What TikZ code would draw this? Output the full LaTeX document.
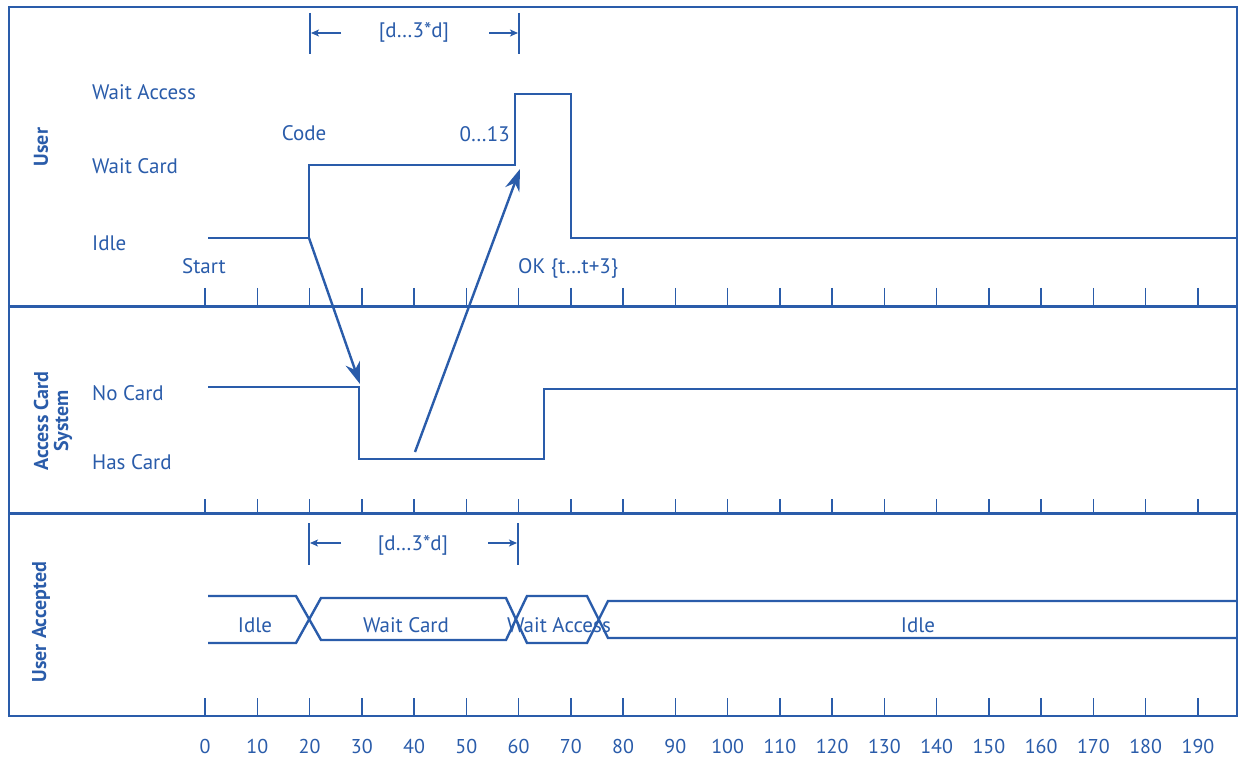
\documentclass[tikz,border=0pt]{standalone}
\usepackage{fontspec}
\setmainfont{PT Sans}
\usetikzlibrary{arrows.meta}
\definecolor{ub}{RGB}{42,92,170}
\begin{document}
\begin{tikzpicture}[x=1pt,y=-1pt,
  every node/.style={text=ub, font=\fontsize{21}{21}\selectfont, inner sep=0pt},
  lbl/.style={anchor=base west},
  axlbl/.style={anchor=base, font=\fontsize{20}{20}\selectfont},
  lane/.style={font=\bfseries\fontsize{20}{20}\selectfont, rotate=90, align=center},
  sig/.style={draw=ub, line width=2.4pt, line join=miter},
  frm/.style={draw=ub, line width=1.8pt},
  sepline/.style={draw=ub, line width=3pt},
  tickmark/.style={draw=ub, line width=1.5pt},
  msg/.style={draw=ub, line width=2.4pt, -{Stealth[length=22pt,width=15pt]}},
  dimline/.style={draw=ub, line width=1.5pt},
  dimarrow/.style={draw=ub, line width=1.5pt, -{Stealth[length=8pt,width=7pt,inset=2pt]}},
]
\useasboundingbox (0,0) rectangle (1239,759);
\fill[white] (0,0) rectangle (1239,759);

% frame and separators
\draw[frm] (9,7) rectangle (1237,716);
\draw[sepline] (9,306) -- (1237,306);
\draw[sepline] (9,513) -- (1237,513);

% ticks and axis labels
\foreach \k in {0,...,19} {
  \pgfmathsetmacro\xx{205+52.26*\k}
  \pgfmathtruncatemacro\vv{10*\k}
  \draw[tickmark] (\xx,288) -- (\xx,306);
  \draw[tickmark] (\xx,499) -- (\xx,513);
  \draw[tickmark] (\xx,698) -- (\xx,716);
  \node[axlbl] (ax\k) at (\xx,753) {\vv};
}

% lane titles
\node[lane] (laneU) at (41,147) {User};
\node[lane] (laneA) at (53,421) {Access Card\\System};
\node[lane] (laneUA) at (41,622) {User Accepted};

% ---- User lifeline ----
\node[lbl] (sWA) at (92,100) {Wait Access};
\node[lbl] (sWC) at (92,174) {Wait Card};
\node[lbl] (sI) at (92,251) {Idle};
\node[lbl] (eStart) at (182,274) {Start};
\node[anchor=base] (eCode) at (304,141) {Code};
\node[anchor=base east] (eDur) at (510,142) {0…13};
\node[lbl] (eOK) at (518,274) {OK \{t…t+3\}};

\coordinate (u0) at (208,238);
\coordinate (u1) at (309,238);
\coordinate (u2) at (309,165);
\coordinate (u3) at (515,165);
\coordinate (u4) at (515,94);
\coordinate (u5) at (571,94);
\coordinate (u6) at (571,238);
\coordinate (u7) at (1237,238);
\draw[sig] (u0) -- (u1) -- (u2) -- (u3) -- (u4) -- (u5) -- (u6) -- (u7);

% top duration constraint
\coordinate (d1a) at (310,13); \coordinate (d1b) at (310,54);
\coordinate (d2a) at (519,13); \coordinate (d2b) at (519,54);
\draw[dimline] (d1a) -- (d1b);
\draw[dimline] (d2a) -- (d2b);
\node[anchor=base] (dimT) at (414,38) {[d…3*d]};
\coordinate (dl1) at (341,33); \coordinate (dl2) at (311,33);
\coordinate (dr1) at (489,33); \coordinate (dr2) at (518,33);
\draw[dimarrow] (dl1) -- (dl2);
\draw[dimarrow] (dr1) -- (dr2);

% ---- Access Card System lifeline ----
\node[lbl] (sNC) at (92,400) {No Card};
\node[lbl] (sHC) at (92,469) {Has Card};
\coordinate (a0) at (208,387);
\coordinate (a1) at (359,387);
\coordinate (a2) at (359,459);
\coordinate (a3) at (544,459);
\coordinate (a4) at (544,389);
\coordinate (a5) at (1237,389);
\draw[sig] (a0) -- (a1) -- (a2) -- (a3) -- (a4) -- (a5);

% messages
\coordinate (m1e) at (360,384);
\coordinate (m2s) at (415,452);
\coordinate (m2e) at (520,169);
\draw[msg] (u1) -- (m1e);
\draw[msg] (m2s) -- (m2e);

% ---- User Accepted (value lifeline) ----
\coordinate (dd1a) at (309,523); \coordinate (dd1b) at (309,565);
\coordinate (dd2a) at (518,523); \coordinate (dd2b) at (518,565);
\draw[dimline] (dd1a) -- (dd1b);
\draw[dimline] (dd2a) -- (dd2b);
\node[anchor=base] (dimB) at (413,550) {[d…3*d]};
\coordinate (bl1) at (341,543); \coordinate (bl2) at (310,543);
\coordinate (br1) at (488,543); \coordinate (br2) at (517,543);
\draw[dimarrow] (bl1) -- (bl2);
\draw[dimarrow] (br1) -- (br2);

\draw[sig] (208,596) -- (296,596) -- (321,640) -- (506,640) -- (527,596)
  -- (587,596) -- (608,638) -- (1237,638);
\draw[sig] (208,643) -- (296,643) -- (321,598) -- (506,598) -- (527,643)
  -- (587,643) -- (608,601) -- (1237,601);

\node[anchor=base] (vI1) at (255,632) {Idle};
\node[anchor=base] (vWC) at (406,632) {Wait Card};
\node[anchor=base] (vWA) at (559,632) {Wait Access};
\node[anchor=base] (vI2) at (918,632) {Idle};
\end{tikzpicture}
\end{document}
